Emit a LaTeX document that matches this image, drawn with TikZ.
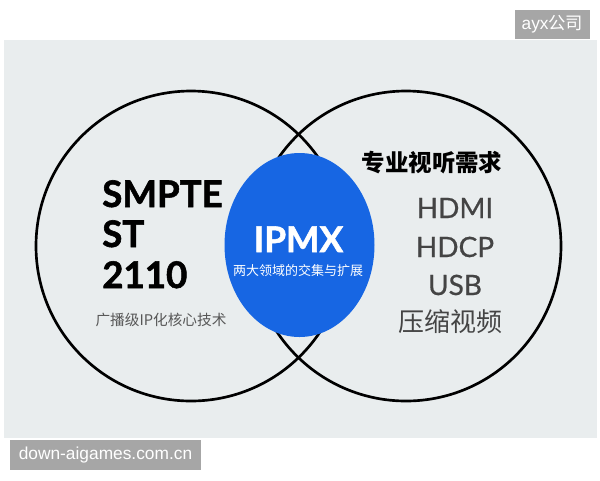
\documentclass[tikz,border=0pt]{standalone}
\usepackage{fontspec}
\setmainfont{Lato}
\newfontfamily\cjk{Noto Sans CJK SC}
\newfontfamily\heavy[BoldFeatures={FakeBold=1.5}]{Lato}
\newfontfamily\medium[FakeBold=0.7]{Lato}
\newfontfamily\wmfont{Liberation Sans}
\usetikzlibrary{shapes.geometric}
\definecolor{panelgray}{HTML}{E9EDEE}
\definecolor{ipmxblue}{HTML}{1766E3}
\definecolor{wmgray}{HTML}{A6A6A6}
\definecolor{textgray}{HTML}{444444}
\tikzset{
  venn/.style={circle,draw=black,line width=2pt,minimum size=232.5pt,inner sep=0pt},
  bigtxt/.style={anchor=base west,inner sep=0pt,font=\heavy\bfseries\fontsize{27.5}{27.5}\selectfont},
  spec/.style={anchor=base,inner sep=0pt,text=textgray,font=\medium\fontsize{21}{21}\selectfont},
  wm/.style={fill=wmgray,text=white,inner sep=0pt,font=\wmfont\fontsize{13}{13}\selectfont}
}
\begin{document}
\begin{tikzpicture}[x=0.75pt,y=-0.75pt]
\useasboundingbox(0,0)rectangle(600,480);
\fill[panelgray](4,40)rectangle(597,438);
%
\node[venn](left)at(191,246){};
\node[venn](right)at(406,246){};
\node[ellipse,fill=ipmxblue,minimum width=112.5pt,minimum height=138pt,inner sep=0pt](ipmx)at(299.5,245){};
%
\node[bigtxt](smpte)at(102,207){SMPTE};
\node[bigtxt](st)at(102,247){ST};
\node[bigtxt](num)at(102,288){2110};
\node[text=textgray!90,font=\cjk\fontsize{11}{11}\selectfont](core)at(161,320){广播级IP化核心技术};
%
\node[anchor=base,inner sep=0pt,text=white,font=\heavy\bfseries\fontsize{26.5}{26.5}\selectfont](ipmxname)at(298.5,252){IPMX};
\node[text=white,font=\cjk\fontsize{9.75}{9.75}\selectfont](cross)at(298,271){两大领域的交集与扩展};
%
\node[font=\cjk\bfseries\fontsize{17.6}{17.6}\selectfont](need)at(432,163){专业视听需求};
\node[spec](hdmi)at(455,218){HDMI};
\node[spec](hdcp)at(455,257){HDCP};
\node[spec](usb)at(455,295){USB};
\node[text=textgray,font=\cjk\fontsize{19.5}{19.5}\selectfont](comp)at(450,322){压缩视频};
%
\node[wm,minimum width=56.25pt,minimum height=21.75pt](wmtop)at(552.5,24.5){ayx{\cjk 公司}};
\node[wm,minimum width=143.25pt,minimum height=22.5pt](wmbot)at(105.5,455){down-aigames.com.cn};
\end{tikzpicture}
\end{document}
